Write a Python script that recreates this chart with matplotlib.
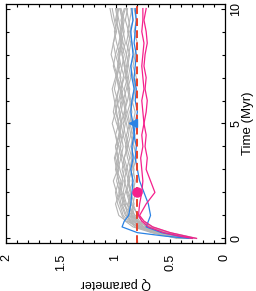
import numpy as np
import matplotlib
matplotlib.use("Agg")
import matplotlib.pyplot as plt
from matplotlib.ticker import MultipleLocator

plt.rcParams["font.family"] = ["Liberation Sans", "DejaVu Sans"]

# tiempos comunes (Myr)
t = [0, 0.1, 0.25, 0.5, 0.75, 1, 1.5, 2, 2.5, 3, 3.5, 4, 4.5, 5,
     5.5, 6, 6.5, 7, 7.5, 8, 8.5, 9, 9.5, 10]

# simulaciones (gris)
grises = [
    [0.30, 0.40, 0.56, 0.78, 0.90, 0.97, 1.00, 0.96, 0.99, 0.97, 1.00, 0.98, 0.95, 0.97, 1.00, 0.98, 1.01, 0.99, 0.97, 1.00, 1.02, 0.99, 1.01, 1.03],
    [0.34, 0.44, 0.60, 0.76, 0.84, 0.88, 0.92, 0.95, 0.93, 0.96, 0.98, 0.95, 0.97, 0.94, 0.96, 0.99, 0.97, 0.95, 0.98, 0.96, 0.94, 0.97, 0.99, 0.97],
    [0.28, 0.37, 0.52, 0.70, 0.80, 0.85, 0.88, 0.86, 0.89, 0.87, 0.85, 0.88, 0.90, 0.87, 0.85, 0.87, 0.89, 0.86, 0.88, 0.90, 0.88, 0.86, 0.88, 0.90],
    [0.40, 0.50, 0.64, 0.82, 0.88, 0.93, 0.96, 0.99, 1.02, 0.98, 0.95, 0.97, 1.00, 1.03, 1.00, 0.97, 0.95, 0.98, 1.01, 1.04, 1.02, 1.00, 1.03, 1.05],
    [0.36, 0.46, 0.60, 0.74, 0.80, 0.83, 0.85, 0.88, 0.84, 0.86, 0.89, 0.91, 0.88, 0.90, 0.92, 0.89, 0.87, 0.90, 0.92, 0.94, 0.91, 0.93, 0.95, 0.92],
    [0.32, 0.42, 0.58, 0.72, 0.78, 0.82, 0.90, 0.93, 0.91, 0.94, 0.92, 0.89, 0.91, 0.93, 0.90, 0.92, 0.95, 0.93, 0.91, 0.94, 0.96, 0.94, 0.92, 0.95],
    [0.44, 0.53, 0.67, 0.84, 0.91, 0.94, 0.98, 1.00, 0.97, 0.99, 1.01, 0.98, 1.00, 0.97, 0.99, 1.01, 1.03, 1.00, 0.98, 0.96, 0.99, 1.01, 0.98, 1.00],
    [0.30, 0.39, 0.54, 0.68, 0.76, 0.80, 0.84, 0.82, 0.85, 0.83, 0.86, 0.84, 0.82, 0.85, 0.87, 0.84, 0.82, 0.84, 0.86, 0.83, 0.85, 0.87, 0.84, 0.86],
    [0.38, 0.48, 0.62, 0.80, 0.87, 0.90, 0.94, 0.91, 0.88, 0.91, 0.93, 0.96, 0.93, 0.91, 0.94, 0.96, 0.93, 0.96, 0.94, 0.92, 0.95, 0.92, 0.94, 0.91],
    [0.26, 0.35, 0.50, 0.66, 0.74, 0.79, 0.86, 0.89, 0.92, 0.90, 0.87, 0.90, 0.93, 0.95, 0.92, 0.90, 0.92, 0.89, 0.92, 0.90, 0.93, 0.95, 0.93, 0.96],
    [0.42, 0.52, 0.66, 0.80, 0.86, 0.89, 0.91, 0.94, 0.97, 1.00, 0.98, 1.00, 0.97, 0.95, 0.97, 0.94, 0.96, 0.99, 0.96, 0.98, 0.95, 0.97, 1.00, 0.98],
    [0.33, 0.43, 0.57, 0.74, 0.82, 0.86, 0.83, 0.86, 0.88, 0.85, 0.83, 0.86, 0.84, 0.87, 0.89, 0.86, 0.88, 0.91, 0.89, 0.87, 0.90, 0.88, 0.91, 0.89],
    [0.37, 0.47, 0.61, 0.77, 0.85, 0.91, 0.95, 0.97, 0.95, 0.99, 0.97, 1.00, 0.96, 0.98, 0.95, 0.93, 0.95, 0.92, 0.95, 0.97, 0.94, 0.96, 0.94, 0.96],
    [0.29, 0.38, 0.53, 0.71, 0.79, 0.84, 0.87, 0.90, 0.87, 0.89, 0.92, 0.89, 0.86, 0.88, 0.91, 0.93, 0.90, 0.88, 0.90, 0.88, 0.86, 0.89, 0.87, 0.85],
    [0.41, 0.51, 0.65, 0.79, 0.83, 0.87, 0.89, 0.84, 0.82, 0.84, 0.81, 0.83, 0.86, 0.84, 0.82, 0.85, 0.83, 0.81, 0.84, 0.82, 0.80, 0.83, 0.81, 0.83],
    [0.35, 0.45, 0.59, 0.75, 0.81, 0.85, 0.93, 0.96, 0.94, 0.92, 0.95, 0.93, 0.95, 0.99, 1.02, 1.00, 0.97, 0.99, 1.02, 1.00, 0.97, 0.95, 0.97, 0.99],
]

# simulaciones destacadas
azules = [
    [0.33, 0.55, 0.80, 0.94, 0.92, 0.88, 0.86, 0.85, 0.84, 0.86, 0.84, 0.85, 0.83, 0.84, 0.86, 0.85, 0.83, 0.85, 0.86, 0.84, 0.85, 0.86, 0.84, 0.85],
    [0.30, 0.42, 0.58, 0.72, 0.70, 0.68, 0.70, 0.74, 0.78, 0.80, 0.82, 0.81, 0.83, 0.82, 0.80, 0.82, 0.81, 0.83, 0.82, 0.81, 0.83, 0.82, 0.81, 0.82],
]
magentas = [
    [0.26, 0.36, 0.50, 0.66, 0.74, 0.78, 0.72, 0.64, 0.68, 0.72, 0.71, 0.73, 0.72, 0.74, 0.72, 0.71, 0.73, 0.72, 0.74, 0.73, 0.71, 0.72, 0.74, 0.72],
    [0.30, 0.42, 0.56, 0.70, 0.76, 0.79, 0.78, 0.76, 0.75, 0.76, 0.77, 0.75, 0.76, 0.74, 0.75, 0.76, 0.74, 0.75, 0.76, 0.75, 0.74, 0.76, 0.75, 0.75],
]

q_limite = 0.8
punto_azul = (0.84, 5.0)
punto_magenta = (0.80, 2.0)

fig = plt.figure(figsize=(2.56, 2.91), dpi=100)
ax = fig.add_axes([6 / 256, 1 - 243 / 291, 219 / 256, 239 / 291])

# figura girada: Q en horizontal (invertido), tiempo en vertical
for q in grises:
    ax.plot(q, t, color="#b4b4b4", lw=0.8)
for q in azules:
    ax.plot(q, t, color="#2a82e4", lw=0.9)
for q in magentas:
    ax.plot(q, t, color="#f5208c", lw=0.9)

ax.axvline(q_limite, color="#e8402a", lw=1.4, ls=(0, (4, 2.2)))
ax.plot(*punto_azul, marker="<", color="#2a82e4", ms=6, ls="none")
ax.plot(*punto_magenta, marker="o", color="#f5208c", ms=6.5, ls="none")

ax.set_xlim(2, 0)
ax.set_ylim(-0.2, 10.2)

ax.set_xticks([0, 0.5, 1, 1.5, 2])
ax.set_xticklabels(["0", "0.5", "1", "1.5", "2"], rotation=90)
ax.xaxis.set_minor_locator(MultipleLocator(0.1))
ax.set_yticks([0, 5, 10])
ax.set_yticklabels(["0", "5", "10"], rotation=90, va="center")
ax.yaxis.set_minor_locator(MultipleLocator(1))

ax.tick_params(which="both", direction="in", top=True, bottom=True,
               left=True, right=True, labelleft=False, labelright=True,
               labelsize=9, width=0.8)
ax.tick_params(which="major", length=3.2)
ax.tick_params(which="minor", length=2)
ax.tick_params(axis="x", pad=8)
ax.tick_params(axis="y", pad=4)
for s in ax.spines.values():
    s.set_linewidth(0.9)

ax.text(0.5, -0.168, "Q parameter", transform=ax.transAxes, rotation=180,
        ha="center", va="center", fontsize=9)
ax.text(1.105, 0.5, "Time (Myr)", transform=ax.transAxes, rotation=90,
        ha="center", va="center", fontsize=9.5)

fig.savefig("out.png", dpi=100)
